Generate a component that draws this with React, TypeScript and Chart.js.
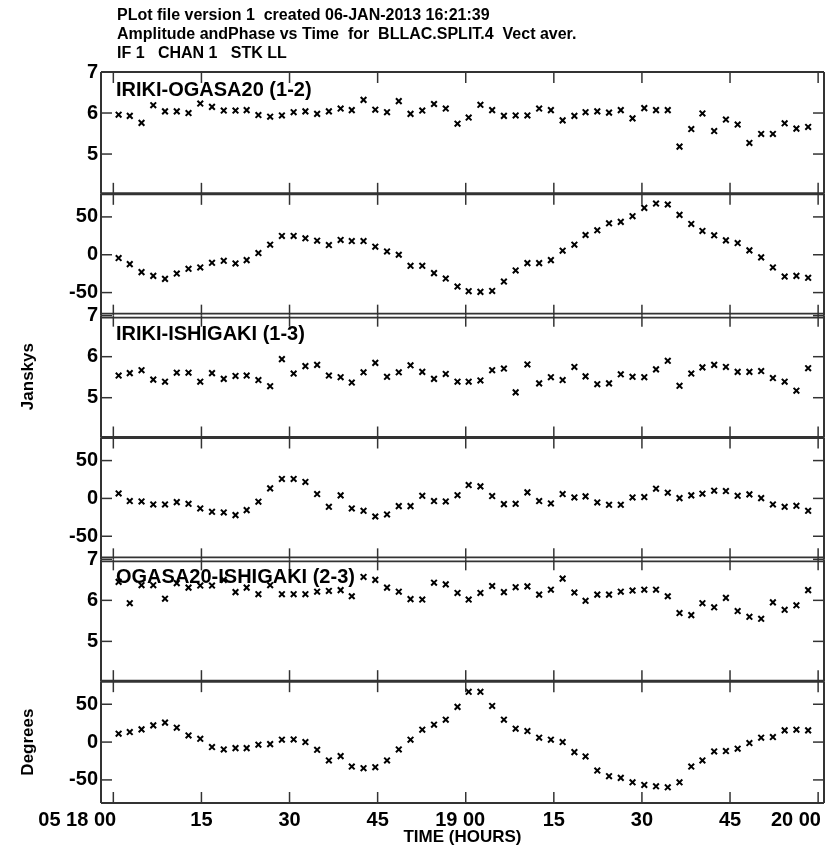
import React, { useEffect, useRef } from "react";
import { Chart, registerables } from "chart.js";

Chart.register(...registerables);

// ---------- DATA ----------
const HEADER_LINES = [
  "PLot file version 1  created 06-JAN-2013 16:21:39",
  "Amplitude andPhase vs Time  for  BLLAC.SPLIT.4  Vect aver.",
  "IF 1   CHAN 1   STK LL",
];

const BASELINES = ["IRIKI-OGASA20 (1-2)", "IRIKI-ISHIGAKI (1-3)", "OGASA20-ISHIGAKI (2-3)"];

// minutes after 05 18:00
const TIME_MIN = [
  0.9, 2.8, 4.8, 6.8, 8.8, 10.8, 12.8, 14.8, 16.8, 18.8,
  20.8, 22.7, 24.7, 26.7, 28.7, 30.7, 32.7, 34.7, 36.7, 38.7,
  40.6, 42.6, 44.6, 46.6, 48.6, 50.6, 52.6, 54.6, 56.6, 58.6,
  60.5, 62.5, 64.5, 66.5, 68.5, 70.5, 72.5, 74.5, 76.5, 78.5,
  80.4, 82.4, 84.4, 86.4, 88.4, 90.4, 92.4, 94.4, 96.4, 98.4,
  100.3, 102.3, 104.3, 106.3, 108.3, 110.3, 112.3, 114.3, 116.3, 118.3,
];

const AMP_12 = [
  5.96, 5.93, 5.76, 6.19, 6.04, 6.04, 6.0, 6.23, 6.15, 6.06,
  6.06, 6.07, 5.95, 5.91, 5.94, 6.02, 6.04, 5.98, 6.04, 6.11,
  6.07, 6.32, 6.08, 6.02, 6.29, 5.98, 6.06, 6.22, 6.11, 5.74,
  5.89, 6.2, 6.07, 5.93, 5.94, 5.94, 6.11, 6.07, 5.82, 5.93,
  6.02, 6.04, 6.01, 6.07, 5.87, 6.12, 6.07, 6.07, 5.18, 5.61,
  5.99, 5.56, 5.84, 5.72, 5.27, 5.49, 5.49, 5.75, 5.62, 5.66,
];

const PHS_12 = [
  -4.4, -12.4, -23.0, -27.9, -31.9, -24.8, -18.6, -16.8, -10.6, -8.0,
  -11.5, -7.1, 2.2, 13.3, 24.8, 24.8, 21.7, 18.6, 12.8, 19.5,
  18.1, 18.1, 10.6, 4.4, 0.0, -14.6, -14.6, -24.3, -31.4, -42.0,
  -48.2, -49.1, -47.8, -35.4, -20.8, -11.1, -11.1, -7.1, 5.3, 13.3,
  26.1, 32.3, 41.6, 43.4, 50.9, 61.9, 67.7, 66.4, 52.7, 40.7,
  31.4, 25.7, 19.0, 15.5, 5.8, -3.5, -16.8, -28.8, -27.9, -30.5,
];

const AMP_13 = [
  5.54, 5.6, 5.67, 5.44, 5.39, 5.61, 5.61, 5.39, 5.6, 5.46,
  5.53, 5.54, 5.43, 5.28, 5.94, 5.59, 5.77, 5.8, 5.54, 5.5,
  5.37, 5.62, 5.85, 5.51, 5.62, 5.79, 5.63, 5.46, 5.58, 5.39,
  5.39, 5.42, 5.67, 5.71, 5.13, 5.81, 5.35, 5.5, 5.43, 5.75,
  5.52, 5.33, 5.35, 5.57, 5.51, 5.5, 5.69, 5.9, 5.29, 5.59,
  5.74, 5.8, 5.75, 5.63, 5.63, 5.65, 5.48, 5.39, 5.17, 5.72,
];

const PHS_13 = [
  6.6, -3.5, -4.0, -8.0, -8.0, -4.9, -7.1, -13.3, -17.7, -18.6,
  -22.1, -15.5, -4.4, 13.3, 25.7, 25.7, 21.7, 5.8, -11.1, 4.0,
  -13.3, -16.4, -23.9, -21.2, -10.2, -10.2, 3.5, -3.5, -4.0, 4.2,
  17.7, 15.9, 3.1, -7.5, -7.1, 8.0, -3.5, -6.6, 5.8, 1.3,
  2.7, -5.3, -8.4, -8.4, 1.3, 1.8, 12.8, 7.5, 0.4, 4.0,
  6.2, 10.2, 9.7, 3.5, 5.3, 0.4, -8.0, -11.1, -9.7, -16.4,
];

const AMP_23 = [
  6.45, 5.93, 6.37, 6.37, 6.04, 6.42, 6.31, 6.36, 6.36, 6.5,
  6.2, 6.31, 6.15, 6.37, 6.15, 6.15, 6.15, 6.21, 6.23, 6.25,
  6.1, 6.57, 6.5, 6.31, 6.21, 6.03, 6.02, 6.43, 6.39, 6.18,
  6.02, 6.18, 6.35, 6.2, 6.32, 6.34, 6.14, 6.26, 6.53, 6.19,
  5.99, 6.14, 6.14, 6.21, 6.24, 6.26, 6.26, 6.1, 5.69, 5.64,
  5.93, 5.83, 6.06, 5.74, 5.6, 5.55, 5.95, 5.77, 5.88, 6.25,
];

const PHS_23 = [
  11.1, 13.3, 16.8, 22.1, 25.7, 19.0, 8.8, 4.4, -6.6, -9.7,
  -8.0, -8.0, -3.5, -2.7, 3.1, 3.5, 0.0, -10.2, -24.3, -18.6,
  -32.3, -34.5, -33.2, -24.3, -9.7, 3.1, 16.4, 23.0, 29.6, 46.5,
  66.4, 66.4, 47.8, 29.6, 17.7, 14.6, 5.8, 3.1, 0.0, -13.3,
  -19.0, -37.6, -45.1, -47.3, -53.1, -56.6, -58.4, -59.7, -53.1, -32.3,
  -24.3, -12.4, -11.9, -8.8, -1.3, 5.8, 6.6, 15.5, 16.4, 15.5,
];

const X_TICKS = [0, 15, 30, 45, 60, 75, 90, 105, 120];
const X_TICK_LABELS = ["05 18 00", "15", "30", "45", "19 00", "15", "30", "45", "20 00"];
const AMP_TICKS = [5, 6, 7];
const PHS_TICKS = [-50, 0, 50];
const AMP_RANGE = [4.03, 7];
const PHS_RANGE = [-80.5, 80.5];
const X_RANGE = [-2.1, 121];

// ---------- STYLE ----------
const FONT = '"Liberation Sans", Arial, Helvetica, sans-serif';
const X_LABEL_PAD = [13, 0, 0, 0, 2, 0, 0, 0, 8];
const FRAME_COLOR = "#333";
const TICK_LEN = 11;

type Panel = { id: string; values: number[]; kind: "amp" | "phs"; label?: string; title?: string };

const PANELS: Panel[] = [
  { id: "y0", values: AMP_12, kind: "amp", label: BASELINES[0] },
  { id: "y1", values: PHS_12, kind: "phs" },
  { id: "y2", values: AMP_13, kind: "amp", label: BASELINES[1], title: "Janskys" },
  { id: "y3", values: PHS_13, kind: "phs" },
  { id: "y4", values: AMP_23, kind: "amp", label: BASELINES[2] },
  { id: "y5", values: PHS_23, kind: "phs", title: "Degrees" },
];

const framePlugin = {
  id: "aipsFrame",
  afterDatasetsDraw(chart: any) {
    const ctx = chart.ctx as CanvasRenderingContext2D;
    const xs = chart.scales.x;
    const { left, right } = chart.chartArea;
    ctx.save();
    ctx.strokeStyle = FRAME_COLOR;
    ctx.lineWidth = 1.5;
    const line = (x1: number, y1: number, x2: number, y2: number) => {
      ctx.beginPath();
      ctx.moveTo(x1, y1);
      ctx.lineTo(x2, y2);
      ctx.stroke();
    };
    PANELS.forEach((p, k) => {
      const s = chart.scales[p.id];
      const top = s.top;
      const bottom = s.bottom;
      ctx.lineWidth = 2;
      line(left, top, left, bottom);
      line(right, top, right, bottom);
      ctx.lineWidth = 1.5;
      for (const v of X_TICKS) {
        const px = xs.getPixelForValue(v);
        line(px, top, px, top + TICK_LEN);
        line(px, bottom, px, bottom - TICK_LEN);
      }
      for (const t of s.ticks) {
        const py = s.getPixelForValue(t.value);
        line(left, py, left + TICK_LEN, py);
        line(right, py, right - TICK_LEN, py);
      }
      if (k === 0) {
        ctx.lineWidth = 2;
        line(left, top, right, top);
      }
      if (k === PANELS.length - 1) {
        ctx.lineWidth = 2;
        line(left, bottom, right, bottom);
      } else if (k % 2 === 0) {
        ctx.lineWidth = 3;
        line(left, bottom, right, bottom);
      } else {
        ctx.lineWidth = 1.8;
        line(left, bottom - 2, right, bottom - 2);
        line(left, bottom + 2, right, bottom + 2);
      }
      ctx.lineWidth = 1.5;
      if (p.label) {
        ctx.fillStyle = "#000";
        ctx.font = `bold 20px ${FONT}`;
        ctx.textAlign = "left";
        ctx.textBaseline = "alphabetic";
        ctx.fillText(p.label, 116, top + 24);
      }
    });
    ctx.restore();
  },
};

function buildConfig(): any {
  const tickFont = { family: FONT, size: 20, weight: "bold" };
  const scales: any = {
    x: {
      type: "linear",
      position: "bottom",
      min: X_RANGE[0],
      max: X_RANGE[1],
      afterBuildTicks: (s: any) => {
        s.ticks = X_TICKS.map((v) => ({ value: v }));
      },
      afterFit: (s: any) => {
        s.height = 51;
        s.paddingLeft = 0;
        s.paddingRight = 0;
      },
      ticks: {
        autoSkip: false,
        maxRotation: 0,
        minRotation: 0,
        padding: 5,
        color: "#000",
        font: tickFont,
        callback: (_v: any, i: number) => X_TICK_LABELS[i] + " ".repeat(X_LABEL_PAD[i]),
      },
      grid: { display: false, drawTicks: false },
      border: { display: false },
      title: {
        display: true,
        text: "TIME (HOURS)",
        color: "#000",
        font: { family: FONT, size: 17, weight: "bold" },
        padding: { top: 0, bottom: 6 },
      },
    },
  };
  PANELS.forEach((p, k) => {
    const range = p.kind === "amp" ? AMP_RANGE : PHS_RANGE;
    const ticks = p.kind === "amp" ? AMP_TICKS : PHS_TICKS;
    scales[p.id] = {
      type: "linear",
      position: "left",
      stack: "panels",
      stackWeight: 1,
      weight: PANELS.length - k,
      min: range[0],
      max: range[1],
      afterBuildTicks: (s: any) => {
        s.ticks = ticks.map((v) => ({ value: v }));
      },
      afterFit: (s: any) => {
        s.width = 101;
      },
      ticks: {
        autoSkip: false,
        padding: 3,
        color: "#000",
        font: tickFont,
        callback: (v: any) => String(v),
      },
      grid: { display: false, drawTicks: false },
      border: { display: false },
      title: p.title
        ? {
            display: true,
            text: p.title,
            color: "#000",
            font: { family: FONT, size: 17, weight: "bold" },
            padding: { top: 18, bottom: 0 },
          }
        : { display: false },
    };
  });

  const datasets = PANELS.map((p) => ({
    label: p.id,
    data: p.values.map((v, i) => ({ x: TIME_MIN[i], y: v })),
    yAxisID: p.id,
    xAxisID: "x",
    showLine: false,
    pointStyle: "crossRot",
    pointRadius: 4,
    pointHoverRadius: 4,
    pointBorderWidth: 2,
    pointBorderColor: "#000",
    pointBackgroundColor: "#000",
  }));

  return {
    type: "scatter",
    data: { datasets },
    options: {
      responsive: false,
      maintainAspectRatio: false,
      animation: false,
      devicePixelRatio: 1,
      layout: { padding: { left: 0, right: 8, top: 72, bottom: 0 } },
      plugins: { legend: { display: false }, tooltip: { enabled: false }, title: { display: false } },
      scales,
    },
    plugins: [framePlugin],
  };
}

export default function App() {
  const ref = useRef<HTMLCanvasElement>(null);
  useEffect(() => {
    if (!ref.current) return;
    const chart = new Chart(ref.current, buildConfig());
    return () => chart.destroy();
  }, []);
  return (
    <div style={{ position: "absolute", left: 0, top: 0, width: 832, height: 854, background: "#fff" }}>
      <canvas
        ref={ref}
        width={832}
        height={854}
        style={{ position: "absolute", left: 0, top: 0, width: 832, height: 854 }}
      />
      {HEADER_LINES.map((t, i) => (
        <div
          key={i}
          style={{
            position: "absolute",
            left: 117,
            top: 5 + 19 * i,
            fontFamily: FONT,
            fontWeight: "bold",
            fontSize: 16,
            lineHeight: "19px",
            whiteSpace: "pre",
            color: "#000",
          }}
        >
          {t}
        </div>
      ))}
    </div>
  );
}
